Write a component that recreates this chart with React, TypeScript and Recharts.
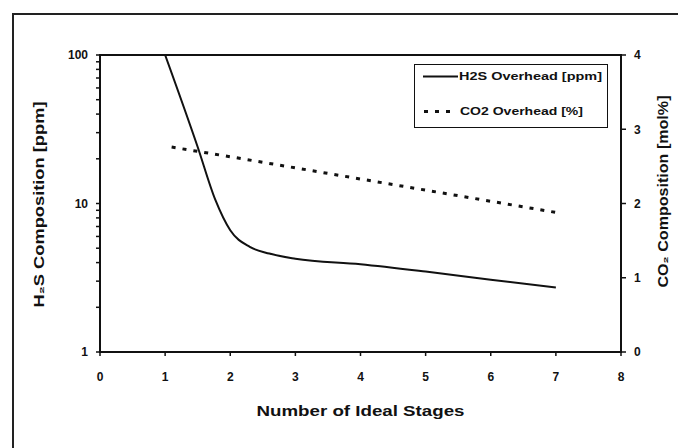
import React from 'react';
import { LineChart, Line, XAxis, YAxis, ReferenceArea, Legend } from 'recharts';

const h2sStages = [1, 1.5, 1.77, 2, 2.3, 2.6, 3, 4, 5, 6, 7];
const h2sPpm = [100, 24, 10.6, 6.6, 5.1, 4.6, 4.25, 3.9, 3.48, 3.07, 2.72];
const co2Stages = [1.1, 2, 3, 4, 5, 6, 7];
const co2Pct = [2.76, 2.63, 2.48, 2.33, 2.18, 2.03, 1.88];

const xTicks = [0, 1, 2, 3, 4, 5, 6, 7, 8];
const leftTicks = [1, 2, 3, 4, 5, 6, 7, 8, 9, 10, 20, 30, 40, 50, 60, 70, 80, 90, 100];
const leftLabels = [1, 10, 100];
const rightTicks = [0, 1, 2, 3, 4];

const h2sData = h2sStages.map((x, i) => ({ x, y: h2sPpm[i] }));
const co2Data = co2Stages.map((x, i) => ({ x, y: co2Pct[i] }));

const FONT = '"Liberation Sans", Arial, sans-serif';
const INK = '#111';

const LeftTick = (props: any) => {
  const { x, y, payload } = props;
  if (!leftLabels.includes(payload.value)) return <g />;
  return (
    <text x={x} y={y} dy="0.35em" textAnchor="end" fontFamily={FONT} fontWeight="bold" fontSize={12} fill={INK}>
      {payload.value}
    </text>
  );
};

const renderLegend = () => (
  <div style={{ width: 194, height: 64, border: '1.5px solid #111', boxSizing: 'border-box', background: '#fff' }}>
    <svg width={191} height={61} style={{ display: 'block' }}>
      <line x1={8} x2={43} y1={11.5} y2={11.5} stroke={INK} strokeWidth={2} />
      <text x={44} y={11.5} dy="0.35em" fontFamily={FONT} fontWeight="bold" fontSize={11} fill={INK} textLength={143} lengthAdjust="spacingAndGlyphs">
        H2S Overhead [ppm]
      </text>
      <line x1={9} x2={40} y1={46.5} y2={46.5} stroke={INK} strokeWidth={3} strokeDasharray="4 7" />
      <text x={45} y={46.5} dy="0.35em" fontFamily={FONT} fontWeight="bold" fontSize={11} fill={INK} textLength={123} lengthAdjust="spacingAndGlyphs">
        CO2 Overhead [%]
      </text>
    </svg>
  </div>
);

const XTitle = (props: any) => {
  const vb = props.viewBox;
  return (
    <text x={vb.x + vb.width / 2} y={vb.y + 59} dy="0.35em" textAnchor="middle" fontFamily={FONT} fontWeight="bold" fontSize={15} fill={INK} textLength={208} lengthAdjust="spacingAndGlyphs">
      Number of Ideal Stages
    </text>
  );
};

const LeftTitle = (props: any) => {
  const vb = props.viewBox;
  const cx = vb.x + 39;
  const cy = vb.y + vb.height / 2 + 1;
  return (
    <text x={cx} y={cy} dy="0.35em" textAnchor="middle" transform={`rotate(-90 ${cx} ${cy})`} fontFamily={FONT} fontWeight="bold" fontSize={14} fill={INK} textLength={206} lengthAdjust="spacingAndGlyphs">
      H₂S Composition [ppm]
    </text>
  );
};

const RightTitle = (props: any) => {
  const vb = props.viewBox;
  const cx = vb.x + 42;
  const cy = vb.y + vb.height / 2 - 12;
  return (
    <text x={cx} y={cy} dy="0.35em" textAnchor="middle" transform={`rotate(-90 ${cx} ${cy})`} fontFamily={FONT} fontWeight="bold" fontSize={14} fill={INK} textLength={192} lengthAdjust="spacingAndGlyphs">
      CO₂ Composition [mol%]
    </text>
  );
};

export default function App() {
  return (
    <div style={{ position: 'absolute', left: 0, top: 0, width: 678, height: 448, background: '#fff', overflow: 'hidden' }}>
      <div style={{ position: 'absolute', left: 12, top: 13, width: 680, height: 450, borderTop: '2px solid #222', borderLeft: '2px solid #222' }} />
      <div style={{ position: 'absolute', left: 0, top: 0 }}>
        <LineChart width={678} height={448} margin={{ top: 55, right: 0, bottom: 0, left: 0 }}>
          <XAxis
            type="number"
            dataKey="x"
            domain={[0, 8]}
            ticks={xTicks}
            interval={0}
            height={96}
            tickSize={4}
            tickMargin={16}
            axisLine={{ stroke: INK, strokeWidth: 2 }}
            tickLine={{ stroke: INK, strokeWidth: 1.5 }}
            tick={{ fontFamily: FONT, fontWeight: 'bold', fontSize: 12, fill: INK }}
            allowDataOverflow
            label={{ content: XTitle }}
          />
          <YAxis
            yAxisId="left"
            orientation="left"
            scale="log"
            domain={[1, 100]}
            ticks={leftTicks}
            interval={0}
            width={100}
            tickSize={4}
            tickMargin={8}
            axisLine={{ stroke: INK, strokeWidth: 2 }}
            tickLine={{ stroke: INK, strokeWidth: 1.5 }}
            tick={LeftTick}
            allowDataOverflow
            label={{ content: LeftTitle }}
          />
          <YAxis
            yAxisId="right"
            orientation="right"
            domain={[0, 4]}
            ticks={rightTicks}
            interval={0}
            width={57}
            tickSize={5}
            tickMargin={8}
            axisLine={{ stroke: INK, strokeWidth: 2 }}
            tickLine={{ stroke: INK, strokeWidth: 1.5 }}
            tick={{ fontFamily: FONT, fontWeight: 'bold', fontSize: 12, fill: INK }}
            allowDataOverflow
            label={{ content: RightTitle }}
          />
          <ReferenceArea yAxisId="left" x1={0} x2={8} y1={1} y2={100} fill="none" stroke={INK} strokeWidth={2} ifOverflow="visible" />
          <Line
            yAxisId="left"
            data={h2sData}
            dataKey="y"
            name="H2S Overhead [ppm]"
            type="monotone"
            stroke={INK}
            strokeWidth={2}
            dot={false}
            isAnimationActive={false}
          />
          <Line
            yAxisId="right"
            data={co2Data}
            dataKey="y"
            name="CO2 Overhead [%]"
            type="linear"
            stroke={INK}
            strokeWidth={3}
            strokeDasharray="4 7"
            dot={false}
            isAnimationActive={false}
          />
          <Legend
            layout="vertical"
            align="center"
            verticalAlign="middle"
            content={renderLegend}
            wrapperStyle={{ position: 'absolute', left: 414, top: 64, width: 194, height: 64 }}
          />
        </LineChart>
      </div>
    </div>
  );
}
